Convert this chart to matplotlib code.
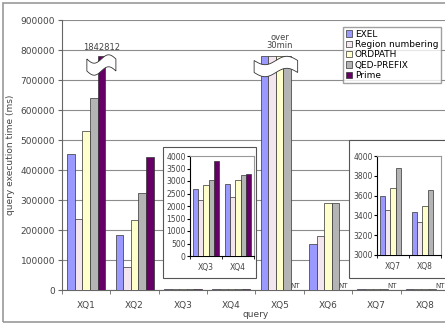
import numpy as np
import matplotlib.pyplot as plt
from matplotlib.patches import Polygon, Rectangle

# data (ms); nan = NT (not tested)
queries = ['XQ1', 'XQ2', 'XQ3', 'XQ4', 'XQ5', 'XQ6', 'XQ7', 'XQ8']
series = ['EXEL', 'Region numbering', 'ORDPATH', 'QED-PREFIX', 'Prime']
exel = [455000, 182000, 2700, 2900, 1800000, 153000, 3600, 3430]
region = [236000, 77000, 2250, 2350, 1800000, 180000, 3450, 3330]
ordpath = [530000, 232000, 2850, 3050, 1800000, 290000, 3680, 3490]
qed = [640000, 322000, 3050, 3240, 1800000, 290000, 3880, 3660]
prime = [1842812, 442000, 3800, 3300, np.nan, np.nan, np.nan, np.nan]
cap = 780000  # bars above this are drawn broken

colors = ['#9999ff', '#f3e6ee', '#ffffcc', '#b4b4b4', '#660066']
values = [exel, region, ordpath, qed, prime]

W, H = 445, 325
fig = plt.figure(figsize=(W / 100, H / 100), dpi=100)
plt.rcParams['font.family'] = 'DejaVu Sans'
txt = '#444444'

def fr(x0, y0, x1, y1):
    # pixel box -> figure fraction [l, b, w, h]
    return [x0 / W, 1 - y1 / H, (x1 - x0) / W, (y1 - y0) / H]

# outer border
fig.patches.append(Rectangle((3 / W, 3 / H), 1.2, 1 - 6 / H, transform=fig.transFigure,
                             fill=False, ec='#999999', lw=1.2))

ax = fig.add_axes(fr(62, 20, 449, 290))
x = np.arange(len(queries))
bw = 0.157
for i, (name, vals) in enumerate(zip(series, values)):
    v = np.minimum(np.array(vals, dtype=float), cap)
    ax.bar(x + (i - 2) * bw, v, bw, color=colors[i], edgecolor='#333333', lw=0.5,
           label=name, zorder=3)

ax.set_xlim(-0.5, len(queries) - 0.5)
ax.set_ylim(0, 900000)
ax.set_yticks(range(0, 900001, 100000))
ax.set_yticklabels([str(t) for t in range(0, 900001, 100000)], fontsize=6.5, color=txt)
ax.set_xticks(x)
ax.set_xticklabels(queries, fontsize=6.5, color=txt)
ax.set_xticks(np.arange(-0.5, len(queries)), minor=True)
ax.tick_params(axis='x', which='major', length=0, pad=8)
ax.tick_params(axis='x', which='minor', length=3, color='#666666')
ax.tick_params(axis='y', length=3, color='#666666', pad=2)
ax.grid(axis='y', color='#8c8c8c', lw=0.8, zorder=0)
for s in ['top', 'right']:
    ax.spines[s].set_visible(False)
for s in ['left', 'bottom']:
    ax.spines[s].set_color('#666666')
ax.set_ylabel('query execution time (ms)', fontsize=6.5, color=txt, labelpad=4)
ax.set_xlabel('query', fontsize=6.5, color=txt, labelpad=0)

# break symbols on capped bars
def brk(xc, half, yc):
    t = np.linspace(-1, 1, 40)
    xs = xc + half * t
    wave = 14000 * np.sin(np.pi * t)
    top = yc + 20000 + wave
    bot = yc - 20000 + wave
    pts = np.column_stack([np.r_[xs, xs[::-1]], np.r_[top, bot[::-1]]])
    ax.add_patch(Polygon(pts, closed=True, fc='white', ec='#333333', lw=0.6, zorder=5))

brk(x[0] + 2 * bw, 0.3, 750000)
brk(x[4] - 0.5 * bw, 0.45, 745000)
ax.text(x[0] + 2 * bw, 795000, f'{prime[0]}', fontsize=6, color=txt, ha='center', va='bottom')
ax.text(x[4], 800000, 'over\n30min', fontsize=6, color=txt, ha='center', va='bottom',
        linespacing=0.9)
for i in range(len(queries)):
    if np.isnan(prime[i]):
        ax.text(x[i] + 2 * bw, 4000, 'NT', fontsize=5, color=txt, ha='center', va='bottom',
                zorder=6)

ax.legend(loc='upper left', bbox_to_anchor=(343 / W, 1 - 27 / H),
          bbox_transform=fig.transFigure, fontsize=6.5, frameon=True, fancybox=False,
          edgecolor='#888888', handlelength=0.7, handleheight=0.7, handletextpad=0.3,
          borderpad=0.3, labelspacing=0.15, borderaxespad=0)

# insets with the small values
def inset(frame, box, idx, lo, hi, step):
    fig.patches.append(Rectangle((frame[0], frame[1]), frame[2], frame[3],
                                 transform=fig.transFigure, fc='white', ec='#555555',
                                 lw=0.8, zorder=4))
    ia = fig.add_axes(box, zorder=5)
    xi = np.arange(len(idx))
    for i, vals in enumerate(values):
        v = np.array([vals[j] for j in idx], dtype=float)
        ia.bar(xi + (i - 2) * bw, v - lo, bw, bottom=lo, color=colors[i],
               edgecolor='#333333', lw=0.5, zorder=3)
    ia.set_xlim(-0.5, len(idx) - 0.5)
    ia.set_ylim(lo, hi)
    ia.set_yticks(np.arange(lo, hi + 1, step))
    ia.tick_params(axis='y', labelsize=5.5, labelcolor=txt, length=2, pad=1)
    ia.set_xticks(xi)
    ia.set_xticklabels([queries[j] for j in idx], fontsize=5.5, color=txt)
    ia.set_xticks([-0.5, 0.5, 1.5], minor=True)
    ia.tick_params(axis='x', which='major', length=0, pad=5)
    ia.tick_params(axis='x', which='minor', length=2)
    for s in ['top', 'right']:
        ia.spines[s].set_color('#999999')
    return ia

inset(fr(163, 147, 256, 278), fr(190, 156, 254, 256), [2, 3], 0, 4000, 500)
inset(fr(349, 140, 452, 278), fr(377, 156, 441, 255), [6, 7], 3000, 4000, 200)

fig.savefig('out.png', dpi=100)
